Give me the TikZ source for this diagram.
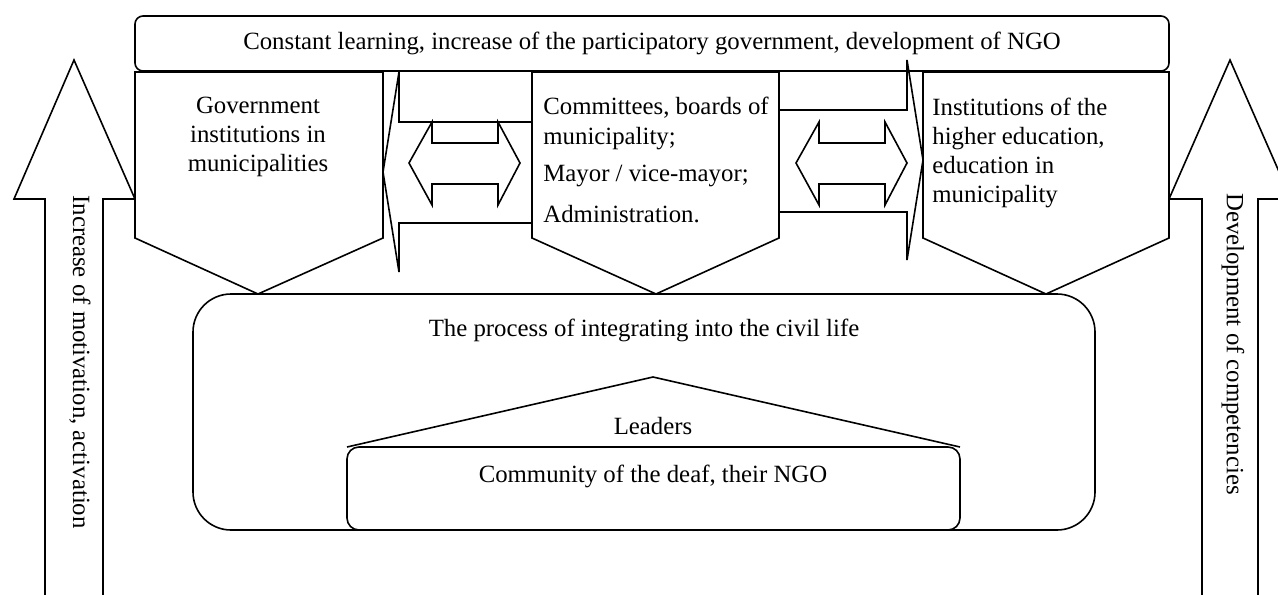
\documentclass[tikz,border=0pt]{standalone}
\usepackage{fontspec}
\setmainfont{Liberation Serif}
\tikzset{
  blk/.style={draw, fill=white, line width=0.8pt, line join=miter},
  txt/.style={font=\fontsize{12.4}{14.5}\selectfont, inner sep=0pt}
}
\begin{document}
\begin{tikzpicture}[x=0.5pt,y=-0.5pt]
  \useasboundingbox (0,0) rectangle (1278,594);
  \clip (0,0) rectangle (1278,594);
  \draw[blk] (45,600) -- (45,199) -- (14,199) -- (74,60) -- (135,199) -- (103,199) -- (103,600);
  \draw[blk] (1202,600) -- (1202,199) -- (1169,199) -- (1230,60) -- (1291,199) -- (1258,199) -- (1258,600);
  \draw[blk, rounded corners=4pt] (135,16) rectangle (1169,71);
  \draw[blk] (399,72) -- (399,122) -- (532,122) -- (532,223) -- (399,223) -- (399,272) -- (383,172) -- cycle;
  \draw[blk] (779,110) -- (907,110) -- (907,60) -- (923,160) -- (907,260) -- (907,212) -- (779,212) -- cycle;
  \draw[blk] (135,72) -- (383,72) -- (383,238) -- (258,294) -- (135,238) -- cycle;
  \draw[blk] (532,72) -- (779,72) -- (779,238) -- (656,294) -- (532,238) -- cycle;
  \draw[blk] (923,72) -- (1169,72) -- (1169,238) -- (1046,294) -- (923,238) -- cycle;
  \foreach \dx in {0,387}
    \draw[blk] (409+\dx,163) -- (432+\dx,122) -- (432+\dx,143) -- (498+\dx,143) -- (498+\dx,122)
      -- (520+\dx,163) -- (498+\dx,205) -- (498+\dx,184) -- (432+\dx,184) -- (432+\dx,205) -- cycle;
  \draw[blk, rounded corners=19pt] (193,294) rectangle (1095,530);
  \draw[blk] (347,447) -- (653,377) -- (960,447);
  \draw[blk, rounded corners=6pt] (347,447) rectangle (960,530);

  \node[txt] (learn) at (652,43) {Constant learning, increase of the participatory government, development of NGO};
  \node[txt, align=center, anchor=north] (gov) at (258,97) {Government\\institutions in\\municipalities};
  \node[txt, align=left, anchor=north west, font=\fontsize{12.4}{15}\selectfont] (board) at (543,97)
    {Committees, boards of\\municipality;\\[3.5pt]Mayor / vice-mayor;\\[5.5pt]Administration.};
  \node[txt, align=left, anchor=north west] (edu) at (932,98) {Institutions of the\\higher education,\\education in\\municipality};
  \node[txt] (civil) at (644,330) {The process of integrating into the civil life};
  \node[txt] (lead) at (653,426) {Leaders};
  \node[txt] (deaf) at (653,476) {Community of the deaf, their NGO};
  \node[txt, rotate=-90] (motiv) at (80,362) {Increase of motivation, activation};
  \node[txt, rotate=-90] (compet) at (1233,344) {Development of competencies};
\end{tikzpicture}
\end{document}
